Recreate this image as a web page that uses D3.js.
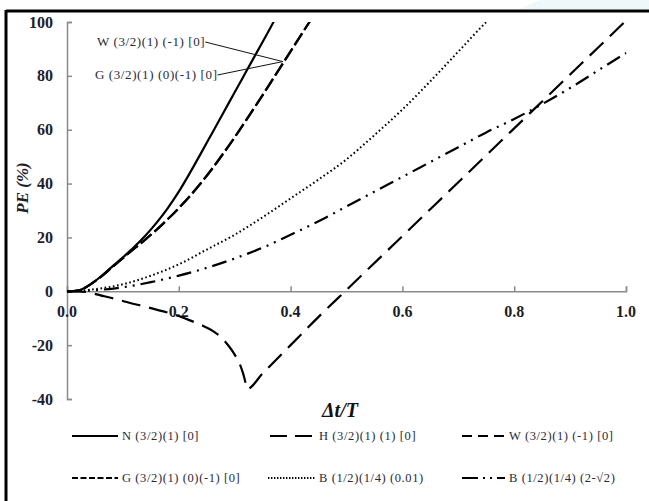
<!DOCTYPE html>
<html>
<head>
<meta charset="utf-8">
<script src="https://cdn.jsdelivr.net/npm/d3@7"></script>
<style>
  html, body { margin: 0; padding: 0; background: #fff; }
  svg { display: block; }
  text { font-family: "Liberation Serif", "DejaVu Serif", serif; }
</style>
</head>
<body>
<svg id="chart" width="649" height="501"></svg>
<script>
// Phase error PE (%) versus Δt/T for several integration schemes
const xTicks = [0.0, 0.2, 0.4, 0.6, 0.8, 1.0];
const yTicks = [-40, -20, 0, 20, 40, 60, 80, 100];

const nX = [0, 0.02, 0.04, 0.06, 0.08, 0.1, 0.12, 0.14, 0.16, 0.18, 0.2, 0.22, 0.24, 0.26, 0.28, 0.3, 0.32, 0.34, 0.36, 0.38];
const nPE = [0, 0.3, 2.3, 5.4, 9, 12.6, 16.4, 20.6, 25.4, 30.8, 37, 44, 51.4, 58.9, 66.4, 73.9, 81.4, 88.9, 96.4, 104];

const wgX = [0, 0.02, 0.04, 0.06, 0.08, 0.1, 0.12, 0.14, 0.16, 0.18, 0.2, 0.22, 0.24, 0.26, 0.28, 0.3, 0.32, 0.34, 0.36, 0.38, 0.4, 0.42, 0.44];
const wPE = [0, 0.3, 2.3, 5.3, 8.8, 12.3, 15.8, 19.2, 22.8, 26.7, 30.9, 35.4, 40.3, 45.6, 51.3, 57.2, 63.4, 69.7, 76.1, 82.6, 89.1, 95.6, 102];
const gPE = [0, 0.3, 2.3, 5.3, 8.8, 12.3, 15.8, 19.2, 22.8, 26.7, 30.9, 35.4, 40.3, 45.6, 51.3, 57.2, 63.4, 69.7, 76.1, 82.6, 89.1, 95.6, 102];

const hX = [0, 0.02, 0.04, 0.06, 0.08, 0.1, 0.12, 0.14, 0.16, 0.18, 0.2, 0.22, 0.24, 0.26, 0.28, 0.29, 0.3, 0.31, 0.315, 0.32, 0.322, 0.35, 0.4, 0.45, 0.5, 0.6, 0.7, 0.8, 0.9, 1.0];
const hPE = [0, 0, -0.5, -1.5, -2.5, -3.6, -4.7, -5.7, -6.8, -7.9, -9.2, -10.8, -12.5, -14.6, -18, -20.5, -23.5, -27.5, -30.5, -34.5, -36.3, -30.5, -20, -9.5, 0.5, 20.5, 40.5, 60.5, 80.5, 100.5];

const b1X = [0, 0.05, 0.1, 0.15, 0.2, 0.25, 0.3, 0.35, 0.4, 0.45, 0.5, 0.55, 0.6, 0.65, 0.7, 0.75, 0.77];
const b1PE = [0, 0.8, 2.6, 5.8, 10, 15.5, 21, 27.5, 34.5, 41.5, 49, 58, 67.5, 78, 89, 100, 104];

const b2X = [0, 0.05, 0.1, 0.15, 0.2, 0.25, 0.3, 0.35, 0.4, 0.45, 0.5, 0.55, 0.6, 0.65, 0.7, 0.75, 0.8, 0.85, 0.9, 0.95, 1.0];
const b2PE = [0, 0.4, 1.5, 3.4, 5.8, 8.7, 12.2, 16.2, 21, 26, 31.5, 37, 42.5, 48, 53.5, 59, 64, 69.5, 75.5, 82, 88.5];

const legendLabels = ["N (3/2)(1) [0]", "H (3/2)(1) (1) [0]", "W (3/2)(1) (-1) [0]",
                      "G (3/2)(1) (0)(-1) [0]", "B (1/2)(1/4) (0.01)", "B (1/2)(1/4) (2-\u221A2)"];
const noteLabels = ["W (3/2)(1) (-1) [0]", "G (3/2)(1) (0)(-1) [0]"];

const svg = d3.select("#chart");

// page frame
svg.append("path").attr("d", "M540,0 L649,0 L649,9 L520,9 Z").attr("fill", "#eef7fa");
svg.append("line").attr("x1", 6).attr("x2", 649).attr("y1", 11).attr("y2", 11)
  .attr("stroke", "#000").attr("stroke-width", 3);
svg.append("line").attr("x1", 6).attr("x2", 6).attr("y1", 10).attr("y2", 501)
  .attr("stroke", "#000").attr("stroke-width", 3);

const x = d3.scaleLinear().domain([0, 1]).range([67, 626]);
const y = d3.scaleLinear().domain([-40, 100]).range([399, 22]);

const axisColor = "#8a8a8a";

// y axis with inward ticks
const yAxis = svg.append("g").attr("transform", `translate(${x(0)},0)`)
  .call(d3.axisRight(y).tickValues(yTicks).tickSize(5).tickFormat(""));
yAxis.select(".domain").attr("stroke", axisColor).attr("stroke-width", 1.5);
yAxis.selectAll(".tick line").attr("stroke", axisColor).attr("stroke-width", 1.5);

svg.append("g").selectAll("text").data(yTicks).join("text")
  .attr("x", 53).attr("y", d => y(d) + 5.5)
  .attr("text-anchor", "end").attr("font-size", 16).attr("font-weight", "bold")
  .attr("fill", "#1d1d28").text(d => d);

// x axis along PE = 0 with upward ticks
const xAxis = svg.append("g").attr("transform", `translate(0,${y(0)})`)
  .call(d3.axisTop(x).tickValues(xTicks).tickSize(5).tickFormat(""));
xAxis.select(".domain").attr("stroke", axisColor).attr("stroke-width", 1.5);
xAxis.selectAll(".tick line").attr("stroke", axisColor).attr("stroke-width", 1.5);

svg.append("g").selectAll("text").data(xTicks).join("text")
  .attr("x", d => x(d)).attr("y", 317)
  .attr("text-anchor", "middle").attr("font-size", 16).attr("font-weight", "bold")
  .attr("fill", "#1d1d28").text(d => d.toFixed(1));

// axis titles
svg.append("text").attr("transform", "translate(28,188) rotate(-90)")
  .attr("text-anchor", "middle").attr("font-size", 17).attr("font-style", "italic")
  .attr("font-weight", "bold").attr("fill", "#1d1d28").text("PE (%)");
svg.append("text").attr("x", 340).attr("y", 417)
  .attr("text-anchor", "middle").attr("font-size", 20).attr("font-style", "italic")
  .attr("font-weight", "bold").attr("fill", "#111").text("\u0394t/T");

// curves
svg.append("clipPath").attr("id", "plot").append("rect")
  .attr("x", x(0)).attr("y", y(100)).attr("width", x(1) - x(0) + 4).attr("height", y(-40) - y(100) + 4);

const line = d3.line().x(d => x(d[0])).y(d => y(d[1])).curve(d3.curveMonotoneX);
const zip = (xs, ys) => xs.map((v, i) => [v, ys[i]]);

const series = [
  { pts: zip(b1X, b1PE), dash: "1.6,2.6", w: 2 },
  { pts: zip(b2X, b2PE), dash: "15,6,2,6,2,6", w: 2.2 },
  { pts: zip(hX, hPE), dash: "19,9", w: 2.2 },
  { pts: zip(wgX, gPE), dash: "14,4", w: 2.2 },
  { pts: zip(wgX, wPE), dash: "14,4", w: 2.2 },
  { pts: zip(nX, nPE), dash: null, w: 2.2 }
];

const plot = svg.append("g").attr("clip-path", "url(#plot)");
plot.selectAll("path").data(series).join("path")
  .attr("d", d => line(d.pts))
  .attr("fill", "none").attr("stroke", "#000")
  .attr("stroke-width", d => d.w)
  .attr("stroke-linecap", "butt")
  .attr("stroke-dasharray", d => d.dash);

// callout for W and G, which coincide on the same curve
const noteTarget = [x(0.386), y(85.3)];
const notes = svg.append("g");
noteLabels.forEach((t, i) => {
  const ty = i === 0 ? 46 : 79;
  const tx = i === 0 ? 97 : 95;
  const el = notes.append("text").attr("x", tx).attr("y", ty)
    .attr("font-size", 13).attr("letter-spacing", 0.6)
    .attr("fill", "#2a2a38").text(t);
  const bb = el.node().getBBox();
  notes.append("line").attr("x1", bb.x + bb.width).attr("y1", ty - 4)
    .attr("x2", noteTarget[0]).attr("y2", noteTarget[1])
    .attr("stroke", "#111").attr("stroke-width", 1);
});

// legend
const legendPos = [[72, 436], [270, 436], [462, 436], [72, 478], [268, 478], [462, 478]];
const legendDash = [null, "17,8", "10,6", "6,2.5", "1.4,1.6", "16,5,2,5,2,5"];
const legendLen = [46, 45, 43, 46, 47, 43];
const lg = svg.append("g");
legendLabels.forEach((t, i) => {
  const [lx, ly] = legendPos[i];
  lg.append("line").attr("x1", lx).attr("x2", lx + legendLen[i]).attr("y1", ly).attr("y2", ly)
    .attr("stroke", "#000").attr("stroke-width", 2)
    .attr("stroke-dasharray", legendDash[i]);
  lg.append("text").attr("x", lx + legendLen[i] + 4).attr("y", ly + 4)
    .attr("font-size", 12.5).attr("letter-spacing", 0.6)
    .attr("fill", "#2a2a38").text(t);
});
</script>
</body>
</html>
